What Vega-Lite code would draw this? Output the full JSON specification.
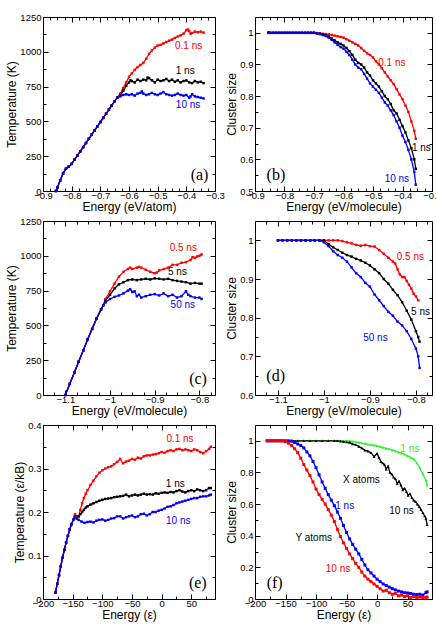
{
"$schema": "https://vega.github.io/schema/vega-lite/v6.json",
"padding": {"left": 5, "top": 11, "right": 2, "bottom": 2},
"columns": 2,
"spacing": {"row": 2, "column": 0},
"config": {
  "font": "Liberation Sans",
  "view": {"stroke": "#000", "strokeWidth": 1},
  "axis": {"grid": false, "domain": false, "tickColor": "#000", "tickWidth": 1, "labelColor": "#000", "labelFontSize": 9.5, "labelFont": "Liberation Sans", "titleFont": "Liberation Sans", "titleColor": "#000", "titleFontSize": 12, "titleFontWeight": "normal", "labelPadding": 7, "titlePadding": 1, "labelFlush": false, "labelOverlap": false},
  "axisX": {"labelPadding": 4, "titlePadding": 0},
  "text": {"font": "Liberation Sans"}
},
"datasets": {
"a": [
{"s":"r","x":-0.855,"y":0},{"s":"r","x":-0.85,"y":25},{"s":"r","x":-0.84,"y":75},{"s":"r","x":-0.83,"y":125},{"s":"r","x":-0.82,"y":160},{"s":"r","x":-0.81,"y":175},{"s":"r","x":-0.8,"y":195},{"s":"r","x":-0.79,"y":225},{"s":"r","x":-0.78,"y":255},{"s":"r","x":-0.77,"y":285},{"s":"r","x":-0.76,"y":315},{"s":"r","x":-0.75,"y":345},{"s":"r","x":-0.74,"y":375},{"s":"r","x":-0.73,"y":405},{"s":"r","x":-0.72,"y":435},{"s":"r","x":-0.71,"y":465},{"s":"r","x":-0.7,"y":495},{"s":"r","x":-0.69,"y":525},{"s":"r","x":-0.68,"y":555},{"s":"r","x":-0.67,"y":585},{"s":"r","x":-0.66,"y":615},{"s":"r","x":-0.65,"y":645},{"s":"r","x":-0.64,"y":672},
{"s":"r","x":-0.63,"y":700},{"s":"r","x":-0.62,"y":740},{"s":"r","x":-0.61,"y":780},{"s":"r","x":-0.6,"y":820},{"s":"r","x":-0.59,"y":845},{"s":"r","x":-0.58,"y":870},{"s":"r","x":-0.57,"y":890},{"s":"r","x":-0.56,"y":905},{"s":"r","x":-0.55,"y":920},{"s":"r","x":-0.54,"y":950},{"s":"r","x":-0.53,"y":985},{"s":"r","x":-0.52,"y":1010},{"s":"r","x":-0.51,"y":1030},{"s":"r","x":-0.5,"y":1045},{"s":"r","x":-0.49,"y":1050},{"s":"r","x":-0.48,"y":1060},{"s":"r","x":-0.47,"y":1070},{"s":"r","x":-0.46,"y":1080},{"s":"r","x":-0.45,"y":1088},{"s":"r","x":-0.44,"y":1100},{"s":"r","x":-0.43,"y":1110},{"s":"r","x":-0.42,"y":1118},{"s":"r","x":-0.41,"y":1130},{"s":"r","x":-0.4,"y":1155},{"s":"r","x":-0.395,"y":1160},{"s":"r","x":-0.39,"y":1150},{"s":"r","x":-0.385,"y":1130},{"s":"r","x":-0.38,"y":1135},{"s":"r","x":-0.37,"y":1145},{"s":"r","x":-0.36,"y":1140},{"s":"r","x":-0.35,"y":1145},{"s":"r","x":-0.34,"y":1138},
{"s":"k","x":-0.855,"y":0},{"s":"k","x":-0.85,"y":25},{"s":"k","x":-0.84,"y":75},{"s":"k","x":-0.83,"y":125},{"s":"k","x":-0.82,"y":160},{"s":"k","x":-0.81,"y":175},{"s":"k","x":-0.8,"y":195},{"s":"k","x":-0.79,"y":225},{"s":"k","x":-0.78,"y":255},{"s":"k","x":-0.77,"y":285},{"s":"k","x":-0.76,"y":315},{"s":"k","x":-0.75,"y":345},{"s":"k","x":-0.74,"y":375},{"s":"k","x":-0.73,"y":405},{"s":"k","x":-0.72,"y":435},{"s":"k","x":-0.71,"y":465},{"s":"k","x":-0.7,"y":495},{"s":"k","x":-0.69,"y":525},{"s":"k","x":-0.68,"y":555},{"s":"k","x":-0.67,"y":585},{"s":"k","x":-0.66,"y":615},{"s":"k","x":-0.65,"y":645},{"s":"k","x":-0.64,"y":672},
{"s":"k","x":-0.63,"y":690},{"s":"k","x":-0.62,"y":720},{"s":"k","x":-0.61,"y":755},{"s":"k","x":-0.6,"y":780},{"s":"k","x":-0.595,"y":795},{"s":"k","x":-0.59,"y":790},{"s":"k","x":-0.58,"y":780},{"s":"k","x":-0.57,"y":800},{"s":"k","x":-0.56,"y":790},{"s":"k","x":-0.55,"y":800},{"s":"k","x":-0.54,"y":795},{"s":"k","x":-0.535,"y":815},{"s":"k","x":-0.53,"y":810},{"s":"k","x":-0.52,"y":795},{"s":"k","x":-0.51,"y":780},{"s":"k","x":-0.5,"y":800},{"s":"k","x":-0.49,"y":790},{"s":"k","x":-0.48,"y":795},{"s":"k","x":-0.47,"y":805},{"s":"k","x":-0.46,"y":790},{"s":"k","x":-0.45,"y":800},{"s":"k","x":-0.44,"y":785},{"s":"k","x":-0.43,"y":795},{"s":"k","x":-0.42,"y":780},{"s":"k","x":-0.41,"y":790},{"s":"k","x":-0.4,"y":795},{"s":"k","x":-0.39,"y":780},{"s":"k","x":-0.38,"y":775},{"s":"k","x":-0.37,"y":790},{"s":"k","x":-0.36,"y":780},{"s":"k","x":-0.35,"y":785},{"s":"k","x":-0.34,"y":775},
{"s":"b","x":-0.855,"y":0},{"s":"b","x":-0.85,"y":25},{"s":"b","x":-0.84,"y":75},{"s":"b","x":-0.83,"y":125},{"s":"b","x":-0.82,"y":160},{"s":"b","x":-0.81,"y":175},{"s":"b","x":-0.8,"y":195},{"s":"b","x":-0.79,"y":225},{"s":"b","x":-0.78,"y":255},{"s":"b","x":-0.77,"y":285},{"s":"b","x":-0.76,"y":315},{"s":"b","x":-0.75,"y":345},{"s":"b","x":-0.74,"y":375},{"s":"b","x":-0.73,"y":405},{"s":"b","x":-0.72,"y":435},{"s":"b","x":-0.71,"y":465},{"s":"b","x":-0.7,"y":495},{"s":"b","x":-0.69,"y":525},{"s":"b","x":-0.68,"y":555},{"s":"b","x":-0.67,"y":585},{"s":"b","x":-0.66,"y":615},{"s":"b","x":-0.65,"y":645},{"s":"b","x":-0.64,"y":672},
{"s":"b","x":-0.63,"y":680},{"s":"b","x":-0.62,"y":690},{"s":"b","x":-0.61,"y":695},{"s":"b","x":-0.6,"y":690},{"s":"b","x":-0.59,"y":695},{"s":"b","x":-0.58,"y":685},{"s":"b","x":-0.57,"y":700},{"s":"b","x":-0.56,"y":705},{"s":"b","x":-0.555,"y":715},{"s":"b","x":-0.55,"y":700},{"s":"b","x":-0.54,"y":690},{"s":"b","x":-0.53,"y":695},{"s":"b","x":-0.52,"y":705},{"s":"b","x":-0.51,"y":695},{"s":"b","x":-0.5,"y":690},{"s":"b","x":-0.49,"y":700},{"s":"b","x":-0.48,"y":710},{"s":"b","x":-0.47,"y":695},{"s":"b","x":-0.46,"y":690},{"s":"b","x":-0.45,"y":685},{"s":"b","x":-0.44,"y":690},{"s":"b","x":-0.43,"y":700},{"s":"b","x":-0.42,"y":690},{"s":"b","x":-0.41,"y":685},{"s":"b","x":-0.4,"y":690},{"s":"b","x":-0.39,"y":670},{"s":"b","x":-0.385,"y":680},{"s":"b","x":-0.38,"y":695},{"s":"b","x":-0.37,"y":680},{"s":"b","x":-0.36,"y":675},{"s":"b","x":-0.35,"y":670},{"s":"b","x":-0.34,"y":665}
],
"aL": [{"s":"r","x":-0.392,"y":1039,"t":"0.1 ns"},{"s":"k","x":-0.404,"y":862,"t":"1 ns"},{"s":"b","x":-0.394,"y":615,"t":"10 ns"}],
"b": [
{"s":"r","x":-0.855,"y":1},{"s":"r","x":-0.85,"y":1},{"s":"r","x":-0.84,"y":1},{"s":"r","x":-0.83,"y":1},{"s":"r","x":-0.82,"y":1},{"s":"r","x":-0.81,"y":1},{"s":"r","x":-0.8,"y":1},{"s":"r","x":-0.79,"y":1},{"s":"r","x":-0.78,"y":1},{"s":"r","x":-0.77,"y":1},{"s":"r","x":-0.76,"y":1},{"s":"r","x":-0.75,"y":1},{"s":"r","x":-0.74,"y":1},{"s":"r","x":-0.73,"y":1},{"s":"r","x":-0.72,"y":1},{"s":"r","x":-0.71,"y":1},{"s":"r","x":-0.7,"y":1},
{"s":"r","x":-0.69,"y":0.999},{"s":"r","x":-0.68,"y":0.998},{"s":"r","x":-0.67,"y":0.997},{"s":"r","x":-0.66,"y":0.996},{"s":"r","x":-0.65,"y":0.995},{"s":"r","x":-0.64,"y":0.993},{"s":"r","x":-0.63,"y":0.991},{"s":"r","x":-0.62,"y":0.989},{"s":"r","x":-0.61,"y":0.987},{"s":"r","x":-0.6,"y":0.985},{"s":"r","x":-0.59,"y":0.98},{"s":"r","x":-0.58,"y":0.975},{"s":"r","x":-0.57,"y":0.97},{"s":"r","x":-0.56,"y":0.965},{"s":"r","x":-0.55,"y":0.96},{"s":"r","x":-0.54,"y":0.952},{"s":"r","x":-0.53,"y":0.943},{"s":"r","x":-0.52,"y":0.935},{"s":"r","x":-0.51,"y":0.93},{"s":"r","x":-0.5,"y":0.922},{"s":"r","x":-0.49,"y":0.91},{"s":"r","x":-0.48,"y":0.9},{"s":"r","x":-0.47,"y":0.888},{"s":"r","x":-0.46,"y":0.875},{"s":"r","x":-0.45,"y":0.862},{"s":"r","x":-0.44,"y":0.85},{"s":"r","x":-0.43,"y":0.838},{"s":"r","x":-0.42,"y":0.822},{"s":"r","x":-0.41,"y":0.805},{"s":"r","x":-0.4,"y":0.79},{"s":"r","x":-0.39,"y":0.77},{"s":"r","x":-0.38,"y":0.75},{"s":"r","x":-0.37,"y":0.72},{"s":"r","x":-0.36,"y":0.69},{"s":"r","x":-0.355,"y":0.665},
{"s":"k","x":-0.855,"y":1},{"s":"k","x":-0.85,"y":1},{"s":"k","x":-0.84,"y":1},{"s":"k","x":-0.83,"y":1},{"s":"k","x":-0.82,"y":1},{"s":"k","x":-0.81,"y":1},{"s":"k","x":-0.8,"y":1},{"s":"k","x":-0.79,"y":1},{"s":"k","x":-0.78,"y":1},{"s":"k","x":-0.77,"y":1},{"s":"k","x":-0.76,"y":1},{"s":"k","x":-0.75,"y":1},{"s":"k","x":-0.74,"y":1},{"s":"k","x":-0.73,"y":1},{"s":"k","x":-0.72,"y":1},{"s":"k","x":-0.71,"y":1},{"s":"k","x":-0.7,"y":1},
{"s":"k","x":-0.69,"y":0.999},{"s":"k","x":-0.68,"y":0.997},{"s":"k","x":-0.67,"y":0.995},{"s":"k","x":-0.66,"y":0.992},{"s":"k","x":-0.65,"y":0.988},{"s":"k","x":-0.64,"y":0.982},{"s":"k","x":-0.63,"y":0.976},{"s":"k","x":-0.62,"y":0.97},{"s":"k","x":-0.61,"y":0.965},{"s":"k","x":-0.6,"y":0.96},{"s":"k","x":-0.59,"y":0.952},{"s":"k","x":-0.58,"y":0.942},{"s":"k","x":-0.57,"y":0.93},{"s":"k","x":-0.56,"y":0.915},{"s":"k","x":-0.55,"y":0.905},{"s":"k","x":-0.54,"y":0.9},{"s":"k","x":-0.53,"y":0.89},{"s":"k","x":-0.52,"y":0.875},{"s":"k","x":-0.51,"y":0.865},{"s":"k","x":-0.5,"y":0.85},{"s":"k","x":-0.49,"y":0.84},{"s":"k","x":-0.48,"y":0.83},{"s":"k","x":-0.47,"y":0.815},{"s":"k","x":-0.46,"y":0.8},{"s":"k","x":-0.45,"y":0.79},{"s":"k","x":-0.44,"y":0.775},{"s":"k","x":-0.43,"y":0.755},{"s":"k","x":-0.42,"y":0.745},{"s":"k","x":-0.41,"y":0.725},{"s":"k","x":-0.4,"y":0.705},{"s":"k","x":-0.39,"y":0.685},{"s":"k","x":-0.38,"y":0.66},{"s":"k","x":-0.37,"y":0.635},{"s":"k","x":-0.36,"y":0.6},{"s":"k","x":-0.355,"y":0.57},
{"s":"b","x":-0.855,"y":1},{"s":"b","x":-0.85,"y":1},{"s":"b","x":-0.84,"y":1},{"s":"b","x":-0.83,"y":1},{"s":"b","x":-0.82,"y":1},{"s":"b","x":-0.81,"y":1},{"s":"b","x":-0.8,"y":1},{"s":"b","x":-0.79,"y":1},{"s":"b","x":-0.78,"y":1},{"s":"b","x":-0.77,"y":1},{"s":"b","x":-0.76,"y":1},{"s":"b","x":-0.75,"y":1},{"s":"b","x":-0.74,"y":1},{"s":"b","x":-0.73,"y":1},{"s":"b","x":-0.72,"y":1},{"s":"b","x":-0.71,"y":1},{"s":"b","x":-0.7,"y":1},
{"s":"b","x":-0.69,"y":0.998},{"s":"b","x":-0.68,"y":0.996},{"s":"b","x":-0.67,"y":0.993},{"s":"b","x":-0.66,"y":0.99},{"s":"b","x":-0.65,"y":0.985},{"s":"b","x":-0.64,"y":0.978},{"s":"b","x":-0.63,"y":0.97},{"s":"b","x":-0.62,"y":0.962},{"s":"b","x":-0.61,"y":0.955},{"s":"b","x":-0.6,"y":0.95},{"s":"b","x":-0.59,"y":0.94},{"s":"b","x":-0.58,"y":0.93},{"s":"b","x":-0.57,"y":0.915},{"s":"b","x":-0.56,"y":0.9},{"s":"b","x":-0.55,"y":0.89},{"s":"b","x":-0.54,"y":0.885},{"s":"b","x":-0.53,"y":0.87},{"s":"b","x":-0.52,"y":0.855},{"s":"b","x":-0.51,"y":0.84},{"s":"b","x":-0.5,"y":0.83},{"s":"b","x":-0.49,"y":0.82},{"s":"b","x":-0.48,"y":0.81},{"s":"b","x":-0.47,"y":0.795},{"s":"b","x":-0.46,"y":0.78},{"s":"b","x":-0.45,"y":0.77},{"s":"b","x":-0.44,"y":0.755},{"s":"b","x":-0.43,"y":0.74},{"s":"b","x":-0.42,"y":0.72},{"s":"b","x":-0.41,"y":0.7},{"s":"b","x":-0.4,"y":0.675},{"s":"b","x":-0.39,"y":0.655},{"s":"b","x":-0.38,"y":0.63},{"s":"b","x":-0.37,"y":0.6},{"s":"b","x":-0.36,"y":0.56},{"s":"b","x":-0.355,"y":0.52}
],
"bL": [{"s":"r","x":-0.436,"y":0.906,"t":"0.1 ns"},{"s":"k","x":-0.336,"y":0.635,"t":"1 ns"},{"s":"b","x":-0.419,"y":0.539,"t":"10 ns"}],
"c": [
{"s":"r","x":-1.1,"y":0},{"s":"r","x":-1.09,"y":80},{"s":"r","x":-1.08,"y":160},{"s":"r","x":-1.07,"y":240},{"s":"r","x":-1.06,"y":320},{"s":"r","x":-1.05,"y":400},{"s":"r","x":-1.04,"y":475},{"s":"r","x":-1.03,"y":550},{"s":"r","x":-1.02,"y":615},{"s":"r","x":-1.015,"y":645},
{"s":"r","x":-1.01,"y":690},{"s":"r","x":-1.0,"y":745},{"s":"r","x":-0.99,"y":800},{"s":"r","x":-0.98,"y":850},{"s":"r","x":-0.97,"y":885},{"s":"r","x":-0.96,"y":905},{"s":"r","x":-0.955,"y":915},{"s":"r","x":-0.95,"y":905},{"s":"r","x":-0.94,"y":915},{"s":"r","x":-0.935,"y":920},{"s":"r","x":-0.93,"y":915},{"s":"r","x":-0.92,"y":900},{"s":"r","x":-0.91,"y":885},{"s":"r","x":-0.9,"y":875},{"s":"r","x":-0.895,"y":880},{"s":"r","x":-0.89,"y":895},{"s":"r","x":-0.88,"y":905},{"s":"r","x":-0.87,"y":915},{"s":"r","x":-0.86,"y":935},{"s":"r","x":-0.85,"y":935},{"s":"r","x":-0.84,"y":950},{"s":"r","x":-0.83,"y":955},{"s":"r","x":-0.82,"y":970},{"s":"r","x":-0.815,"y":990},{"s":"r","x":-0.81,"y":985},{"s":"r","x":-0.805,"y":995},{"s":"r","x":-0.8,"y":1000},{"s":"r","x":-0.795,"y":1010},
{"s":"k","x":-1.1,"y":0},{"s":"k","x":-1.09,"y":80},{"s":"k","x":-1.08,"y":160},{"s":"k","x":-1.07,"y":240},{"s":"k","x":-1.06,"y":320},{"s":"k","x":-1.05,"y":400},{"s":"k","x":-1.04,"y":475},{"s":"k","x":-1.03,"y":550},{"s":"k","x":-1.02,"y":615},{"s":"k","x":-1.015,"y":645},
{"s":"k","x":-1.01,"y":680},{"s":"k","x":-1.0,"y":720},{"s":"k","x":-0.99,"y":765},{"s":"k","x":-0.98,"y":795},{"s":"k","x":-0.97,"y":810},{"s":"k","x":-0.96,"y":825},{"s":"k","x":-0.95,"y":830},{"s":"k","x":-0.94,"y":825},{"s":"k","x":-0.93,"y":830},{"s":"k","x":-0.92,"y":835},{"s":"k","x":-0.91,"y":830},{"s":"k","x":-0.9,"y":838},{"s":"k","x":-0.89,"y":835},{"s":"k","x":-0.88,"y":830},{"s":"k","x":-0.87,"y":835},{"s":"k","x":-0.86,"y":825},{"s":"k","x":-0.85,"y":820},{"s":"k","x":-0.84,"y":815},{"s":"k","x":-0.83,"y":810},{"s":"k","x":-0.82,"y":800},{"s":"k","x":-0.81,"y":805},{"s":"k","x":-0.8,"y":800},{"s":"k","x":-0.795,"y":800},
{"s":"b","x":-1.1,"y":0},{"s":"b","x":-1.09,"y":80},{"s":"b","x":-1.08,"y":160},{"s":"b","x":-1.07,"y":240},{"s":"b","x":-1.06,"y":320},{"s":"b","x":-1.05,"y":400},{"s":"b","x":-1.04,"y":475},{"s":"b","x":-1.03,"y":550},{"s":"b","x":-1.02,"y":615},{"s":"b","x":-1.015,"y":645},
{"s":"b","x":-1.01,"y":665},{"s":"b","x":-1.0,"y":690},{"s":"b","x":-0.99,"y":705},{"s":"b","x":-0.98,"y":715},{"s":"b","x":-0.97,"y":730},{"s":"b","x":-0.96,"y":750},{"s":"b","x":-0.955,"y":760},{"s":"b","x":-0.95,"y":740},{"s":"b","x":-0.945,"y":745},{"s":"b","x":-0.94,"y":710},{"s":"b","x":-0.935,"y":720},{"s":"b","x":-0.93,"y":700},{"s":"b","x":-0.92,"y":710},{"s":"b","x":-0.91,"y":720},{"s":"b","x":-0.9,"y":725},{"s":"b","x":-0.89,"y":715},{"s":"b","x":-0.88,"y":730},{"s":"b","x":-0.87,"y":710},{"s":"b","x":-0.86,"y":720},{"s":"b","x":-0.85,"y":700},{"s":"b","x":-0.84,"y":710},{"s":"b","x":-0.83,"y":745},{"s":"b","x":-0.825,"y":720},{"s":"b","x":-0.82,"y":710},{"s":"b","x":-0.81,"y":700},{"s":"b","x":-0.8,"y":700},{"s":"b","x":-0.795,"y":690}
],
"cL": [{"s":"r","x":-0.836,"y":1058,"t":"0.5 ns"},{"s":"k","x":-0.849,"y":884,"t":"5 ns"},{"s":"b","x":-0.837,"y":644,"t":"50 ns"}],
"d": [
{"s":"r","x":-1.1,"y":1},{"s":"r","x":-1.09,"y":1},{"s":"r","x":-1.08,"y":1},{"s":"r","x":-1.07,"y":1},{"s":"r","x":-1.06,"y":1},{"s":"r","x":-1.05,"y":1},{"s":"r","x":-1.04,"y":1},{"s":"r","x":-1.03,"y":1},{"s":"r","x":-1.02,"y":1},{"s":"r","x":-1.01,"y":1},{"s":"r","x":-1.0,"y":1},{"s":"r","x":-0.99,"y":1},{"s":"r","x":-0.98,"y":1},{"s":"r","x":-0.97,"y":1},
{"s":"r","x":-0.96,"y":0.998},{"s":"r","x":-0.95,"y":0.995},{"s":"r","x":-0.94,"y":0.992},{"s":"r","x":-0.93,"y":0.988},{"s":"r","x":-0.92,"y":0.986},{"s":"r","x":-0.91,"y":0.988},{"s":"r","x":-0.9,"y":0.985},{"s":"r","x":-0.89,"y":0.984},{"s":"r","x":-0.88,"y":0.975},{"s":"r","x":-0.87,"y":0.965},{"s":"r","x":-0.86,"y":0.955},{"s":"r","x":-0.85,"y":0.945},{"s":"r","x":-0.845,"y":0.94},{"s":"r","x":-0.84,"y":0.925},{"s":"r","x":-0.835,"y":0.912},{"s":"r","x":-0.83,"y":0.905},{"s":"r","x":-0.825,"y":0.905},{"s":"r","x":-0.82,"y":0.895},{"s":"r","x":-0.815,"y":0.885},{"s":"r","x":-0.81,"y":0.875},{"s":"r","x":-0.805,"y":0.862},{"s":"r","x":-0.8,"y":0.855},{"s":"r","x":-0.795,"y":0.845},
{"s":"k","x":-1.1,"y":1},{"s":"k","x":-1.09,"y":1},{"s":"k","x":-1.08,"y":1},{"s":"k","x":-1.07,"y":1},{"s":"k","x":-1.06,"y":1},{"s":"k","x":-1.05,"y":1},{"s":"k","x":-1.04,"y":1},{"s":"k","x":-1.03,"y":1},{"s":"k","x":-1.02,"y":1},{"s":"k","x":-1.01,"y":1},{"s":"k","x":-1.0,"y":1},
{"s":"k","x":-0.99,"y":0.99},{"s":"k","x":-0.98,"y":0.982},{"s":"k","x":-0.97,"y":0.975},{"s":"k","x":-0.96,"y":0.968},{"s":"k","x":-0.95,"y":0.962},{"s":"k","x":-0.94,"y":0.958},{"s":"k","x":-0.93,"y":0.952},{"s":"k","x":-0.92,"y":0.948},{"s":"k","x":-0.91,"y":0.942},{"s":"k","x":-0.9,"y":0.935},{"s":"k","x":-0.89,"y":0.925},{"s":"k","x":-0.88,"y":0.915},{"s":"k","x":-0.87,"y":0.9},{"s":"k","x":-0.86,"y":0.888},{"s":"k","x":-0.85,"y":0.872},{"s":"k","x":-0.84,"y":0.858},{"s":"k","x":-0.83,"y":0.84},{"s":"k","x":-0.82,"y":0.818},{"s":"k","x":-0.81,"y":0.795},{"s":"k","x":-0.8,"y":0.765},{"s":"k","x":-0.795,"y":0.75},{"s":"k","x":-0.792,"y":0.738},
{"s":"b","x":-1.1,"y":1},{"s":"b","x":-1.09,"y":1},{"s":"b","x":-1.08,"y":1},{"s":"b","x":-1.07,"y":1},{"s":"b","x":-1.06,"y":1},{"s":"b","x":-1.05,"y":1},{"s":"b","x":-1.04,"y":1},{"s":"b","x":-1.03,"y":1},{"s":"b","x":-1.02,"y":1},{"s":"b","x":-1.01,"y":1},
{"s":"b","x":-1.0,"y":0.995},{"s":"b","x":-0.99,"y":0.985},{"s":"b","x":-0.98,"y":0.972},{"s":"b","x":-0.97,"y":0.962},{"s":"b","x":-0.96,"y":0.955},{"s":"b","x":-0.95,"y":0.945},{"s":"b","x":-0.94,"y":0.93},{"s":"b","x":-0.93,"y":0.915},{"s":"b","x":-0.92,"y":0.905},{"s":"b","x":-0.91,"y":0.89},{"s":"b","x":-0.9,"y":0.88},{"s":"b","x":-0.89,"y":0.86},{"s":"b","x":-0.88,"y":0.845},{"s":"b","x":-0.87,"y":0.83},{"s":"b","x":-0.86,"y":0.815},{"s":"b","x":-0.85,"y":0.805},{"s":"b","x":-0.84,"y":0.79},{"s":"b","x":-0.83,"y":0.78},{"s":"b","x":-0.82,"y":0.765},{"s":"b","x":-0.81,"y":0.745},{"s":"b","x":-0.8,"y":0.72},{"s":"b","x":-0.795,"y":0.7},{"s":"b","x":-0.792,"y":0.67}
],
"dL": [{"s":"r","x":-0.812,"y":0.958,"t":"0.5 ns"},{"s":"k","x":-0.79,"y":0.815,"t":"5 ns"},{"s":"b","x":-0.888,"y":0.748,"t":"50 ns"}],
"e": [
{"s":"r","x":-179,"y":0.015},{"s":"r","x":-176,"y":0.035},{"s":"r","x":-173,"y":0.055},{"s":"r","x":-170,"y":0.075},{"s":"r","x":-167,"y":0.095},{"s":"r","x":-164,"y":0.113},{"s":"r","x":-161,"y":0.13},{"s":"r","x":-158,"y":0.145},{"s":"r","x":-155,"y":0.16},{"s":"r","x":-152,"y":0.172},{"s":"r","x":-149,"y":0.182},
{"s":"r","x":-146,"y":0.195},{"s":"r","x":-143,"y":0.19},{"s":"r","x":-140,"y":0.19},{"s":"r","x":-137,"y":0.205},{"s":"r","x":-134,"y":0.22},{"s":"r","x":-131,"y":0.232},{"s":"r","x":-128,"y":0.242},{"s":"r","x":-125,"y":0.25},{"s":"r","x":-120,"y":0.262},{"s":"r","x":-115,"y":0.272},{"s":"r","x":-110,"y":0.282},{"s":"r","x":-105,"y":0.29},{"s":"r","x":-100,"y":0.296},{"s":"r","x":-95,"y":0.3},{"s":"r","x":-90,"y":0.303},{"s":"r","x":-85,"y":0.305},{"s":"r","x":-80,"y":0.31},{"s":"r","x":-75,"y":0.315},{"s":"r","x":-70,"y":0.322},{"s":"r","x":-65,"y":0.312},{"s":"r","x":-60,"y":0.316},{"s":"r","x":-55,"y":0.318},{"s":"r","x":-50,"y":0.322},{"s":"r","x":-45,"y":0.32},{"s":"r","x":-40,"y":0.325},{"s":"r","x":-35,"y":0.323},{"s":"r","x":-30,"y":0.328},{"s":"r","x":-25,"y":0.33},{"s":"r","x":-20,"y":0.33},{"s":"r","x":-15,"y":0.332},{"s":"r","x":-10,"y":0.333},{"s":"r","x":-5,"y":0.335},{"s":"r","x":0,"y":0.338},{"s":"r","x":5,"y":0.336},{"s":"r","x":10,"y":0.34},{"s":"r","x":15,"y":0.342},{"s":"r","x":20,"y":0.34},{"s":"r","x":25,"y":0.344},{"s":"r","x":30,"y":0.345},{"s":"r","x":35,"y":0.342},{"s":"r","x":40,"y":0.344},{"s":"r","x":45,"y":0.342},{"s":"r","x":50,"y":0.34},{"s":"r","x":55,"y":0.344},{"s":"r","x":60,"y":0.342},{"s":"r","x":65,"y":0.338},{"s":"r","x":70,"y":0.335},{"s":"r","x":75,"y":0.34},{"s":"r","x":80,"y":0.345},{"s":"r","x":83,"y":0.35},
{"s":"k","x":-179,"y":0.015},{"s":"k","x":-176,"y":0.035},{"s":"k","x":-173,"y":0.055},{"s":"k","x":-170,"y":0.075},{"s":"k","x":-167,"y":0.095},{"s":"k","x":-164,"y":0.113},{"s":"k","x":-161,"y":0.13},{"s":"k","x":-158,"y":0.145},{"s":"k","x":-155,"y":0.16},{"s":"k","x":-152,"y":0.172},{"s":"k","x":-149,"y":0.182},
{"s":"k","x":-146,"y":0.19},{"s":"k","x":-143,"y":0.185},{"s":"k","x":-140,"y":0.19},{"s":"k","x":-137,"y":0.195},{"s":"k","x":-134,"y":0.2},{"s":"k","x":-131,"y":0.205},{"s":"k","x":-128,"y":0.21},{"s":"k","x":-125,"y":0.213},{"s":"k","x":-120,"y":0.217},{"s":"k","x":-115,"y":0.22},{"s":"k","x":-110,"y":0.223},{"s":"k","x":-105,"y":0.226},{"s":"k","x":-100,"y":0.228},{"s":"k","x":-95,"y":0.23},{"s":"k","x":-90,"y":0.231},{"s":"k","x":-85,"y":0.232},{"s":"k","x":-80,"y":0.234},{"s":"k","x":-75,"y":0.235},{"s":"k","x":-70,"y":0.236},{"s":"k","x":-65,"y":0.237},{"s":"k","x":-60,"y":0.24},{"s":"k","x":-55,"y":0.236},{"s":"k","x":-50,"y":0.238},{"s":"k","x":-45,"y":0.24},{"s":"k","x":-40,"y":0.238},{"s":"k","x":-35,"y":0.24},{"s":"k","x":-30,"y":0.242},{"s":"k","x":-25,"y":0.24},{"s":"k","x":-20,"y":0.241},{"s":"k","x":-15,"y":0.24},{"s":"k","x":-10,"y":0.243},{"s":"k","x":-5,"y":0.242},{"s":"k","x":0,"y":0.244},{"s":"k","x":5,"y":0.245},{"s":"k","x":10,"y":0.244},{"s":"k","x":15,"y":0.246},{"s":"k","x":20,"y":0.245},{"s":"k","x":25,"y":0.248},{"s":"k","x":30,"y":0.25},{"s":"k","x":35,"y":0.247},{"s":"k","x":40,"y":0.245},{"s":"k","x":45,"y":0.248},{"s":"k","x":50,"y":0.25},{"s":"k","x":55,"y":0.248},{"s":"k","x":60,"y":0.252},{"s":"k","x":65,"y":0.25},{"s":"k","x":70,"y":0.248},{"s":"k","x":75,"y":0.25},{"s":"k","x":80,"y":0.255},{"s":"k","x":83,"y":0.255},
{"s":"b","x":-179,"y":0.015},{"s":"b","x":-176,"y":0.035},{"s":"b","x":-173,"y":0.055},{"s":"b","x":-170,"y":0.075},{"s":"b","x":-167,"y":0.095},{"s":"b","x":-164,"y":0.113},{"s":"b","x":-161,"y":0.13},{"s":"b","x":-158,"y":0.145},{"s":"b","x":-155,"y":0.16},{"s":"b","x":-152,"y":0.172},{"s":"b","x":-149,"y":0.182},
{"s":"b","x":-146,"y":0.19},{"s":"b","x":-143,"y":0.185},{"s":"b","x":-140,"y":0.182},{"s":"b","x":-135,"y":0.178},{"s":"b","x":-130,"y":0.175},{"s":"b","x":-125,"y":0.177},{"s":"b","x":-120,"y":0.178},{"s":"b","x":-115,"y":0.176},{"s":"b","x":-110,"y":0.18},{"s":"b","x":-105,"y":0.182},{"s":"b","x":-100,"y":0.183},{"s":"b","x":-95,"y":0.18},{"s":"b","x":-90,"y":0.182},{"s":"b","x":-85,"y":0.185},{"s":"b","x":-80,"y":0.186},{"s":"b","x":-75,"y":0.19},{"s":"b","x":-70,"y":0.19},{"s":"b","x":-65,"y":0.185},{"s":"b","x":-60,"y":0.188},{"s":"b","x":-55,"y":0.19},{"s":"b","x":-50,"y":0.192},{"s":"b","x":-45,"y":0.188},{"s":"b","x":-40,"y":0.19},{"s":"b","x":-35,"y":0.195},{"s":"b","x":-30,"y":0.196},{"s":"b","x":-25,"y":0.192},{"s":"b","x":-20,"y":0.195},{"s":"b","x":-15,"y":0.2},{"s":"b","x":-10,"y":0.2},{"s":"b","x":-5,"y":0.203},{"s":"b","x":0,"y":0.205},{"s":"b","x":5,"y":0.208},{"s":"b","x":10,"y":0.212},{"s":"b","x":15,"y":0.213},{"s":"b","x":20,"y":0.216},{"s":"b","x":25,"y":0.22},{"s":"b","x":30,"y":0.222},{"s":"b","x":35,"y":0.224},{"s":"b","x":40,"y":0.226},{"s":"b","x":45,"y":0.228},{"s":"b","x":50,"y":0.23},{"s":"b","x":55,"y":0.232},{"s":"b","x":60,"y":0.232},{"s":"b","x":65,"y":0.235},{"s":"b","x":70,"y":0.236},{"s":"b","x":75,"y":0.236},{"s":"b","x":80,"y":0.238},{"s":"b","x":83,"y":0.24}
],
"eL": [{"s":"r","x":31,"y":0.367,"t":"0.1 ns"},{"s":"k","x":23,"y":0.264,"t":"1 ns"},{"s":"b","x":28,"y":0.179,"t":"10 ns"}],
"f": [
{"s":"g","x":-180,"y":1},{"s":"g","x":-170,"y":1},{"s":"g","x":-160,"y":1},{"s":"g","x":-150,"y":1},{"s":"g","x":-140,"y":1},{"s":"g","x":-130,"y":1},{"s":"g","x":-120,"y":1},{"s":"g","x":-110,"y":1},{"s":"g","x":-100,"y":1},{"s":"g","x":-90,"y":1},{"s":"g","x":-80,"y":1},{"s":"g","x":-70,"y":1},{"s":"g","x":-60,"y":1},{"s":"g","x":-50,"y":1},{"s":"g","x":-45,"y":1},
{"s":"g","x":-40,"y":0.997},{"s":"g","x":-35,"y":0.993},{"s":"g","x":-30,"y":0.99},{"s":"g","x":-25,"y":0.986},{"s":"g","x":-20,"y":0.983},{"s":"g","x":-15,"y":0.978},{"s":"g","x":-10,"y":0.975},{"s":"g","x":-5,"y":0.972},{"s":"g","x":0,"y":0.968},{"s":"g","x":5,"y":0.963},{"s":"g","x":10,"y":0.958},{"s":"g","x":15,"y":0.952},{"s":"g","x":20,"y":0.948},{"s":"g","x":25,"y":0.942},{"s":"g","x":30,"y":0.936},{"s":"g","x":35,"y":0.928},{"s":"g","x":40,"y":0.922},{"s":"g","x":45,"y":0.915},{"s":"g","x":50,"y":0.905},{"s":"g","x":55,"y":0.895},{"s":"g","x":60,"y":0.885},{"s":"g","x":65,"y":0.86},{"s":"g","x":70,"y":0.83},{"s":"g","x":75,"y":0.79},{"s":"g","x":80,"y":0.75},{"s":"g","x":82,"y":0.72},
{"s":"k","x":-180,"y":1},{"s":"k","x":-170,"y":1},{"s":"k","x":-160,"y":1},{"s":"k","x":-150,"y":1},{"s":"k","x":-140,"y":1},{"s":"k","x":-130,"y":1},{"s":"k","x":-120,"y":1},{"s":"k","x":-110,"y":1},{"s":"k","x":-100,"y":1},{"s":"k","x":-90,"y":1},{"s":"k","x":-80,"y":1},{"s":"k","x":-70,"y":1},{"s":"k","x":-65,"y":1},
{"s":"k","x":-60,"y":0.998},{"s":"k","x":-55,"y":0.995},{"s":"k","x":-50,"y":0.993},{"s":"k","x":-45,"y":0.99},{"s":"k","x":-40,"y":0.98},{"s":"k","x":-35,"y":0.975},{"s":"k","x":-30,"y":0.965},{"s":"k","x":-25,"y":0.955},{"s":"k","x":-20,"y":0.94},{"s":"k","x":-15,"y":0.935},{"s":"k","x":-10,"y":0.925},{"s":"k","x":-5,"y":0.9},{"s":"k","x":0,"y":0.92},{"s":"k","x":3,"y":0.895},{"s":"k","x":6,"y":0.87},{"s":"k","x":9,"y":0.86},{"s":"k","x":12,"y":0.85},{"s":"k","x":15,"y":0.82},{"s":"k","x":18,"y":0.84},{"s":"k","x":21,"y":0.8},{"s":"k","x":24,"y":0.79},{"s":"k","x":27,"y":0.77},{"s":"k","x":30,"y":0.76},{"s":"k","x":33,"y":0.73},{"s":"k","x":36,"y":0.745},{"s":"k","x":39,"y":0.72},{"s":"k","x":42,"y":0.69},{"s":"k","x":45,"y":0.7},{"s":"k","x":48,"y":0.68},{"s":"k","x":51,"y":0.655},{"s":"k","x":54,"y":0.665},{"s":"k","x":57,"y":0.64},{"s":"k","x":60,"y":0.625},{"s":"k","x":63,"y":0.615},{"s":"k","x":66,"y":0.6},{"s":"k","x":69,"y":0.585},{"s":"k","x":72,"y":0.565},{"s":"k","x":75,"y":0.545},{"s":"k","x":78,"y":0.525},{"s":"k","x":80,"y":0.51},{"s":"k","x":82,"y":0.47},
{"s":"b","x":-180,"y":1},{"s":"b","x":-175,"y":1},{"s":"b","x":-170,"y":1},{"s":"b","x":-165,"y":1},{"s":"b","x":-160,"y":1},{"s":"b","x":-155,"y":1},{"s":"b","x":-150,"y":1},{"s":"b","x":-145,"y":1},
{"s":"b","x":-140,"y":0.998},{"s":"b","x":-135,"y":0.99},{"s":"b","x":-130,"y":0.98},{"s":"b","x":-125,"y":0.97},{"s":"b","x":-120,"y":0.955},{"s":"b","x":-115,"y":0.93},{"s":"b","x":-110,"y":0.905},{"s":"b","x":-105,"y":0.87},{"s":"b","x":-100,"y":0.83},{"s":"b","x":-95,"y":0.785},{"s":"b","x":-90,"y":0.74},{"s":"b","x":-85,"y":0.7},{"s":"b","x":-80,"y":0.66},{"s":"b","x":-75,"y":0.625},{"s":"b","x":-70,"y":0.59},{"s":"b","x":-65,"y":0.55},{"s":"b","x":-60,"y":0.51},{"s":"b","x":-55,"y":0.465},{"s":"b","x":-50,"y":0.42},{"s":"b","x":-45,"y":0.38},{"s":"b","x":-40,"y":0.345},{"s":"b","x":-35,"y":0.315},{"s":"b","x":-30,"y":0.285},{"s":"b","x":-25,"y":0.25},{"s":"b","x":-20,"y":0.215},{"s":"b","x":-15,"y":0.185},{"s":"b","x":-10,"y":0.165},{"s":"b","x":-5,"y":0.145},{"s":"b","x":0,"y":0.125},{"s":"b","x":5,"y":0.11},{"s":"b","x":10,"y":0.095},{"s":"b","x":15,"y":0.085},{"s":"b","x":20,"y":0.075},{"s":"b","x":25,"y":0.065},{"s":"b","x":30,"y":0.058},{"s":"b","x":35,"y":0.05},{"s":"b","x":40,"y":0.045},{"s":"b","x":45,"y":0.04},{"s":"b","x":50,"y":0.038},{"s":"b","x":55,"y":0.035},{"s":"b","x":60,"y":0.03},{"s":"b","x":65,"y":0.028},{"s":"b","x":70,"y":0.03},{"s":"b","x":75,"y":0.025},{"s":"b","x":80,"y":0.04},{"s":"b","x":82,"y":0.045},
{"s":"r","x":-180,"y":1},{"s":"r","x":-175,"y":1},{"s":"r","x":-170,"y":1},{"s":"r","x":-165,"y":1},{"s":"r","x":-160,"y":1},{"s":"r","x":-155,"y":1},
{"s":"r","x":-150,"y":0.995},{"s":"r","x":-145,"y":0.985},{"s":"r","x":-140,"y":0.97},{"s":"r","x":-135,"y":0.95},{"s":"r","x":-130,"y":0.925},{"s":"r","x":-125,"y":0.89},{"s":"r","x":-120,"y":0.85},{"s":"r","x":-115,"y":0.815},{"s":"r","x":-110,"y":0.78},{"s":"r","x":-105,"y":0.74},{"s":"r","x":-100,"y":0.695},{"s":"r","x":-95,"y":0.66},{"s":"r","x":-90,"y":0.63},{"s":"r","x":-85,"y":0.6},{"s":"r","x":-80,"y":0.565},{"s":"r","x":-75,"y":0.53},{"s":"r","x":-70,"y":0.49},{"s":"r","x":-65,"y":0.44},{"s":"r","x":-60,"y":0.395},{"s":"r","x":-55,"y":0.355},{"s":"r","x":-50,"y":0.32},{"s":"r","x":-45,"y":0.285},{"s":"r","x":-40,"y":0.255},{"s":"r","x":-35,"y":0.225},{"s":"r","x":-30,"y":0.2},{"s":"r","x":-25,"y":0.17},{"s":"r","x":-20,"y":0.145},{"s":"r","x":-15,"y":0.125},{"s":"r","x":-10,"y":0.11},{"s":"r","x":-5,"y":0.095},{"s":"r","x":0,"y":0.08},{"s":"r","x":5,"y":0.065},{"s":"r","x":10,"y":0.05},{"s":"r","x":15,"y":0.055},{"s":"r","x":20,"y":0.04},{"s":"r","x":25,"y":0.03},{"s":"r","x":30,"y":0.035},{"s":"r","x":35,"y":0.02},{"s":"r","x":40,"y":0.025},{"s":"r","x":45,"y":0.015},{"s":"r","x":50,"y":0.02},{"s":"r","x":55,"y":0.01},{"s":"r","x":60,"y":0.015},{"s":"r","x":65,"y":0.01},{"s":"r","x":70,"y":0.012},{"s":"r","x":75,"y":0.008},{"s":"r","x":80,"y":0.01},{"s":"r","x":82,"y":0.012}
],
"fL": [{"s":"g","x":53.6,"y":0.948,"t":"1 ns"},{"s":"k","x":-25.7,"y":0.753,"t":"X atoms"},{"s":"k","x":40,"y":0.556,"t":"10 ns"},{"s":"b","x":-53,"y":0.585,"t":"1 ns"},{"s":"k","x":-103.8,"y":0.388,"t":"Y atoms"},{"s":"r","x":-64,"y":0.187,"t":"10 ns"}]
},
"concat": [
 {"width": 172, "height": 174, "resolve": {"axis": {"x": "independent", "y": "independent"}},
  "layer": [
   {"data": {"name": "a"}, "mark": {"type": "line", "strokeWidth": 1.3},
    "encoding": {
     "x": {"field": "x", "type": "quantitative", "scale": {"domain": [-0.9, -0.3], "nice": false, "zero": false}, "axis": {"title": "Energy (eV/atom)", "values": [-0.9,-0.875,-0.85,-0.825,-0.8,-0.775,-0.75,-0.725,-0.7,-0.675,-0.65,-0.625,-0.6,-0.575,-0.55,-0.525,-0.5,-0.475,-0.45,-0.425,-0.4,-0.375,-0.35,-0.325,-0.3], "labelExpr": "abs(datum.value*10-round(datum.value*10))<0.001 ? format(datum.value,'~g') : ''", "tickSize": {"condition": {"test": "abs(datum.value*10-round(datum.value*10))<0.001", "value": -5}, "value": -3}}},
     "y": {"field": "y", "type": "quantitative", "scale": {"domain": [0, 1250], "nice": false, "zero": false}, "axis": {"title": "Temperature (K)", "values": [0,125,250,375,500,625,750,875,1000,1125,1250], "labelExpr": "abs(datum.value/250-round(datum.value/250))<0.001 ? format(datum.value,'~g') : ''", "tickSize": {"condition": {"test": "abs(datum.value/250-round(datum.value/250))<0.001", "value": -5}, "value": -3}}},
     "color": {"field": "s", "type": "nominal", "scale": {"domain": ["r","k","b","g"], "range": ["#ff0000","#000000","#0000ff","#33ee33"]}, "legend": null}}},
   {"data": {"name": "a"}, "mark": {"type": "point", "filled": true, "shape": "square", "size": 6, "opacity": 1},
    "encoding": {
     "x": {"field": "x", "type": "quantitative", "scale": {"domain": [-0.9, -0.3], "nice": false, "zero": false}, "axis": null},
     "y": {"field": "y", "type": "quantitative", "scale": {"domain": [0, 1250], "nice": false, "zero": false}, "axis": null},
     "color": {"field": "s", "type": "nominal", "scale": {"domain": ["r","k","b","g"], "range": ["#ff0000","#000000","#0000ff","#33ee33"]}, "legend": null}}},
   {"data": {"name": "aL"}, "mark": {"type": "text", "fontSize": 10},
    "encoding": {
     "x": {"field": "x", "type": "quantitative", "scale": {"domain": [-0.9, -0.3], "nice": false, "zero": false}, "axis": {"orient": "top", "title": null, "labels": false, "values": [-0.9,-0.875,-0.85,-0.825,-0.8,-0.775,-0.75,-0.725,-0.7,-0.675,-0.65,-0.625,-0.6,-0.575,-0.55,-0.525,-0.5,-0.475,-0.45,-0.425,-0.4,-0.375,-0.35,-0.325,-0.3], "tickSize": {"condition": {"test": "abs(datum.value*10-round(datum.value*10))<0.001", "value": -5}, "value": -3}}},
     "y": {"field": "y", "type": "quantitative", "scale": {"domain": [0, 1250], "nice": false, "zero": false}, "axis": {"orient": "right", "title": null, "labels": false, "values": [0,125,250,375,500,625,750,875,1000,1125,1250], "tickSize": {"condition": {"test": "abs(datum.value/250-round(datum.value/250))<0.001", "value": -5}, "value": -3}}},
     "text": {"field": "t"},
     "color": {"field": "s", "type": "nominal", "scale": {"domain": ["r","k","b","g"], "range": ["#ff0000","#000000","#0000ff","#33ee33"]}, "legend": null}}},
   {"data": {"values": [{"x": -0.354, "y": 112, "t": "(a)"}]}, "mark": {"type": "text", "font": "Liberation Serif", "fontSize": 16, "color": "#000"},
    "encoding": {
     "x": {"field": "x", "type": "quantitative", "scale": {"domain": [-0.9, -0.3], "nice": false, "zero": false}, "axis": null},
     "y": {"field": "y", "type": "quantitative", "scale": {"domain": [0, 1250], "nice": false, "zero": false}, "axis": null},
     "text": {"field": "t"}}}
  ]},
 {"width": 177, "height": 174, "resolve": {"axis": {"x": "independent", "y": "independent"}},
  "layer": [
   {"data": {"name": "b"}, "mark": {"type": "line", "strokeWidth": 1.3},
    "encoding": {
     "x": {"field": "x", "type": "quantitative", "scale": {"domain": [-0.9, -0.3], "nice": false, "zero": false}, "axis": {"title": "Energy (eV/molecule)", "values": [-0.9,-0.875,-0.85,-0.825,-0.8,-0.775,-0.75,-0.725,-0.7,-0.675,-0.65,-0.625,-0.6,-0.575,-0.55,-0.525,-0.5,-0.475,-0.45,-0.425,-0.4,-0.375,-0.35,-0.325,-0.3], "labelExpr": "abs(datum.value*10-round(datum.value*10))<0.001 ? format(datum.value,'~g') : ''", "tickSize": {"condition": {"test": "abs(datum.value*10-round(datum.value*10))<0.001", "value": -5}, "value": -3}}},
     "y": {"field": "y", "type": "quantitative", "scale": {"domain": [0.5, 1.05], "nice": false, "zero": false}, "axis": {"title": "Cluster size", "values": [0.5,0.55,0.6,0.65,0.7,0.75,0.8,0.85,0.9,0.95,1], "labelExpr": "abs(datum.value*10-round(datum.value*10))<0.001 ? format(datum.value,'~g') : ''", "tickSize": {"condition": {"test": "abs(datum.value*10-round(datum.value*10))<0.001", "value": -5}, "value": -3}}},
     "color": {"field": "s", "type": "nominal", "scale": {"domain": ["r","k","b","g"], "range": ["#ff0000","#000000","#0000ff","#33ee33"]}, "legend": null}}},
   {"data": {"name": "b"}, "mark": {"type": "point", "filled": true, "shape": "square", "size": 6, "opacity": 1},
    "encoding": {
     "x": {"field": "x", "type": "quantitative", "scale": {"domain": [-0.9, -0.3], "nice": false, "zero": false}, "axis": null},
     "y": {"field": "y", "type": "quantitative", "scale": {"domain": [0.5, 1.05], "nice": false, "zero": false}, "axis": null},
     "color": {"field": "s", "type": "nominal", "scale": {"domain": ["r","k","b","g"], "range": ["#ff0000","#000000","#0000ff","#33ee33"]}, "legend": null}}},
   {"data": {"name": "bL"}, "mark": {"type": "text", "fontSize": 10},
    "encoding": {
     "x": {"field": "x", "type": "quantitative", "scale": {"domain": [-0.9, -0.3], "nice": false, "zero": false}, "axis": {"orient": "top", "title": null, "labels": false, "values": [-0.9,-0.875,-0.85,-0.825,-0.8,-0.775,-0.75,-0.725,-0.7,-0.675,-0.65,-0.625,-0.6,-0.575,-0.55,-0.525,-0.5,-0.475,-0.45,-0.425,-0.4,-0.375,-0.35,-0.325,-0.3], "tickSize": {"condition": {"test": "abs(datum.value*10-round(datum.value*10))<0.001", "value": -5}, "value": -3}}},
     "y": {"field": "y", "type": "quantitative", "scale": {"domain": [0.5, 1.05], "nice": false, "zero": false}, "axis": {"orient": "right", "title": null, "labels": false, "values": [0.5,0.55,0.6,0.65,0.7,0.75,0.8,0.85,0.9,0.95,1], "tickSize": {"condition": {"test": "abs(datum.value*10-round(datum.value*10))<0.001", "value": -5}, "value": -3}}},
     "text": {"field": "t"},
     "color": {"field": "s", "type": "nominal", "scale": {"domain": ["r","k","b","g"], "range": ["#ff0000","#000000","#0000ff","#33ee33"]}, "legend": null}}},
   {"data": {"values": [{"x": -0.829, "y": 0.549, "t": "(b)"}]}, "mark": {"type": "text", "font": "Liberation Serif", "fontSize": 16, "color": "#000"},
    "encoding": {
     "x": {"field": "x", "type": "quantitative", "scale": {"domain": [-0.9, -0.3], "nice": false, "zero": false}, "axis": null},
     "y": {"field": "y", "type": "quantitative", "scale": {"domain": [0.5, 1.05], "nice": false, "zero": false}, "axis": null},
     "text": {"field": "t"}}}
  ]},
 {"width": 172, "height": 174, "resolve": {"axis": {"x": "independent", "y": "independent"}},
  "layer": [
   {"data": {"name": "c"}, "mark": {"type": "line", "strokeWidth": 1.3},
    "encoding": {
     "x": {"field": "x", "type": "quantitative", "scale": {"domain": [-1.15, -0.765], "nice": false, "zero": false}, "axis": {"title": "Energy (eV/molecule)", "values": [-1.15,-1.125,-1.1,-1.075,-1.05,-1.025,-1,-0.975,-0.95,-0.925,-0.9,-0.875,-0.85,-0.825,-0.8,-0.775], "labelExpr": "abs(datum.value*10-round(datum.value*10))<0.001 ? format(datum.value,'~g') : ''", "tickSize": {"condition": {"test": "abs(datum.value*10-round(datum.value*10))<0.001", "value": -5}, "value": -3}}},
     "y": {"field": "y", "type": "quantitative", "scale": {"domain": [0, 1250], "nice": false, "zero": false}, "axis": {"title": "Temperature (K)", "values": [0,125,250,375,500,625,750,875,1000,1125,1250], "labelExpr": "abs(datum.value/250-round(datum.value/250))<0.001 ? format(datum.value,'~g') : ''", "tickSize": {"condition": {"test": "abs(datum.value/250-round(datum.value/250))<0.001", "value": -5}, "value": -3}}},
     "color": {"field": "s", "type": "nominal", "scale": {"domain": ["r","k","b","g"], "range": ["#ff0000","#000000","#0000ff","#33ee33"]}, "legend": null}}},
   {"data": {"name": "c"}, "mark": {"type": "point", "filled": true, "shape": "square", "size": 6, "opacity": 1},
    "encoding": {
     "x": {"field": "x", "type": "quantitative", "scale": {"domain": [-1.15, -0.765], "nice": false, "zero": false}, "axis": null},
     "y": {"field": "y", "type": "quantitative", "scale": {"domain": [0, 1250], "nice": false, "zero": false}, "axis": null},
     "color": {"field": "s", "type": "nominal", "scale": {"domain": ["r","k","b","g"], "range": ["#ff0000","#000000","#0000ff","#33ee33"]}, "legend": null}}},
   {"data": {"name": "cL"}, "mark": {"type": "text", "fontSize": 10},
    "encoding": {
     "x": {"field": "x", "type": "quantitative", "scale": {"domain": [-1.15, -0.765], "nice": false, "zero": false}, "axis": {"orient": "top", "title": null, "labels": false, "values": [-1.15,-1.125,-1.1,-1.075,-1.05,-1.025,-1,-0.975,-0.95,-0.925,-0.9,-0.875,-0.85,-0.825,-0.8,-0.775], "tickSize": {"condition": {"test": "abs(datum.value*10-round(datum.value*10))<0.001", "value": -5}, "value": -3}}},
     "y": {"field": "y", "type": "quantitative", "scale": {"domain": [0, 1250], "nice": false, "zero": false}, "axis": {"orient": "right", "title": null, "labels": false, "values": [0,125,250,375,500,625,750,875,1000,1125,1250], "tickSize": {"condition": {"test": "abs(datum.value/250-round(datum.value/250))<0.001", "value": -5}, "value": -3}}},
     "text": {"field": "t"},
     "color": {"field": "s", "type": "nominal", "scale": {"domain": ["r","k","b","g"], "range": ["#ff0000","#000000","#0000ff","#33ee33"]}, "legend": null}}},
   {"data": {"values": [{"x": -0.803, "y": 112, "t": "(c)"}]}, "mark": {"type": "text", "font": "Liberation Serif", "fontSize": 16, "color": "#000"},
    "encoding": {
     "x": {"field": "x", "type": "quantitative", "scale": {"domain": [-1.15, -0.765], "nice": false, "zero": false}, "axis": null},
     "y": {"field": "y", "type": "quantitative", "scale": {"domain": [0, 1250], "nice": false, "zero": false}, "axis": null},
     "text": {"field": "t"}}}
  ]},
 {"width": 177, "height": 174, "resolve": {"axis": {"x": "independent", "y": "independent"}},
  "layer": [
   {"data": {"name": "d"}, "mark": {"type": "line", "strokeWidth": 1.3},
    "encoding": {
     "x": {"field": "x", "type": "quantitative", "scale": {"domain": [-1.15, -0.765], "nice": false, "zero": false}, "axis": {"title": "Energy (eV/molecule)", "values": [-1.15,-1.125,-1.1,-1.075,-1.05,-1.025,-1,-0.975,-0.95,-0.925,-0.9,-0.875,-0.85,-0.825,-0.8,-0.775], "labelExpr": "abs(datum.value*10-round(datum.value*10))<0.001 ? format(datum.value,'~g') : ''", "tickSize": {"condition": {"test": "abs(datum.value*10-round(datum.value*10))<0.001", "value": -5}, "value": -3}}},
     "y": {"field": "y", "type": "quantitative", "scale": {"domain": [0.6, 1.05], "nice": false, "zero": false}, "axis": {"title": "Cluster size", "values": [0.6,0.65,0.7,0.75,0.8,0.85,0.9,0.95,1], "labelExpr": "abs(datum.value*10-round(datum.value*10))<0.001 ? format(datum.value,'~g') : ''", "tickSize": {"condition": {"test": "abs(datum.value*10-round(datum.value*10))<0.001", "value": -5}, "value": -3}}},
     "color": {"field": "s", "type": "nominal", "scale": {"domain": ["r","k","b","g"], "range": ["#ff0000","#000000","#0000ff","#33ee33"]}, "legend": null}}},
   {"data": {"name": "d"}, "mark": {"type": "point", "filled": true, "shape": "square", "size": 6, "opacity": 1},
    "encoding": {
     "x": {"field": "x", "type": "quantitative", "scale": {"domain": [-1.15, -0.765], "nice": false, "zero": false}, "axis": null},
     "y": {"field": "y", "type": "quantitative", "scale": {"domain": [0.6, 1.05], "nice": false, "zero": false}, "axis": null},
     "color": {"field": "s", "type": "nominal", "scale": {"domain": ["r","k","b","g"], "range": ["#ff0000","#000000","#0000ff","#33ee33"]}, "legend": null}}},
   {"data": {"name": "dL"}, "mark": {"type": "text", "fontSize": 10},
    "encoding": {
     "x": {"field": "x", "type": "quantitative", "scale": {"domain": [-1.15, -0.765], "nice": false, "zero": false}, "axis": {"orient": "top", "title": null, "labels": false, "values": [-1.15,-1.125,-1.1,-1.075,-1.05,-1.025,-1,-0.975,-0.95,-0.925,-0.9,-0.875,-0.85,-0.825,-0.8,-0.775], "tickSize": {"condition": {"test": "abs(datum.value*10-round(datum.value*10))<0.001", "value": -5}, "value": -3}}},
     "y": {"field": "y", "type": "quantitative", "scale": {"domain": [0.6, 1.05], "nice": false, "zero": false}, "axis": {"orient": "right", "title": null, "labels": false, "values": [0.6,0.65,0.7,0.75,0.8,0.85,0.9,0.95,1], "tickSize": {"condition": {"test": "abs(datum.value*10-round(datum.value*10))<0.001", "value": -5}, "value": -3}}},
     "text": {"field": "t"},
     "color": {"field": "s", "type": "nominal", "scale": {"domain": ["r","k","b","g"], "range": ["#ff0000","#000000","#0000ff","#33ee33"]}, "legend": null}}},
   {"data": {"values": [{"x": -1.105, "y": 0.65, "t": "(d)"}]}, "mark": {"type": "text", "font": "Liberation Serif", "fontSize": 16, "color": "#000"},
    "encoding": {
     "x": {"field": "x", "type": "quantitative", "scale": {"domain": [-1.15, -0.765], "nice": false, "zero": false}, "axis": null},
     "y": {"field": "y", "type": "quantitative", "scale": {"domain": [0.6, 1.05], "nice": false, "zero": false}, "axis": null},
     "text": {"field": "t"}}}
  ]},
 {"width": 172, "height": 174, "resolve": {"axis": {"x": "independent", "y": "independent"}},
  "layer": [
   {"data": {"name": "e"}, "mark": {"type": "line", "strokeWidth": 1.3},
    "encoding": {
     "x": {"field": "x", "type": "quantitative", "scale": {"domain": [-200, 90], "nice": false, "zero": false}, "axis": {"title": "Energy (ε)", "values": [-200,-175,-150,-125,-100,-75,-50,-25,0,25,50,75], "labelExpr": "abs(datum.value/50-round(datum.value/50))<0.001 ? format(datum.value,'~g') : ''", "tickSize": {"condition": {"test": "abs(datum.value/50-round(datum.value/50))<0.001", "value": -5}, "value": -3}}},
     "y": {"field": "y", "type": "quantitative", "scale": {"domain": [0, 0.4], "nice": false, "zero": false}, "axis": {"title": "Temperature (ε/kB)", "values": [0,0.05,0.1,0.15,0.2,0.25,0.3,0.35,0.4], "labelExpr": "abs(datum.value*10-round(datum.value*10))<0.001 ? format(datum.value,'~g') : ''", "tickSize": {"condition": {"test": "abs(datum.value*10-round(datum.value*10))<0.001", "value": -5}, "value": -3}}},
     "color": {"field": "s", "type": "nominal", "scale": {"domain": ["r","k","b","g"], "range": ["#ff0000","#000000","#0000ff","#33ee33"]}, "legend": null}}},
   {"data": {"name": "e"}, "mark": {"type": "point", "filled": true, "shape": "square", "size": 6, "opacity": 1},
    "encoding": {
     "x": {"field": "x", "type": "quantitative", "scale": {"domain": [-200, 90], "nice": false, "zero": false}, "axis": null},
     "y": {"field": "y", "type": "quantitative", "scale": {"domain": [0, 0.4], "nice": false, "zero": false}, "axis": null},
     "color": {"field": "s", "type": "nominal", "scale": {"domain": ["r","k","b","g"], "range": ["#ff0000","#000000","#0000ff","#33ee33"]}, "legend": null}}},
   {"data": {"name": "eL"}, "mark": {"type": "text", "fontSize": 10},
    "encoding": {
     "x": {"field": "x", "type": "quantitative", "scale": {"domain": [-200, 90], "nice": false, "zero": false}, "axis": {"orient": "top", "title": null, "labels": false, "values": [-200,-175,-150,-125,-100,-75,-50,-25,0,25,50,75], "tickSize": {"condition": {"test": "abs(datum.value/50-round(datum.value/50))<0.001", "value": -5}, "value": -3}}},
     "y": {"field": "y", "type": "quantitative", "scale": {"domain": [0, 0.4], "nice": false, "zero": false}, "axis": {"orient": "right", "title": null, "labels": false, "values": [0,0.05,0.1,0.15,0.2,0.25,0.3,0.35,0.4], "tickSize": {"condition": {"test": "abs(datum.value*10-round(datum.value*10))<0.001", "value": -5}, "value": -3}}},
     "text": {"field": "t"},
     "color": {"field": "s", "type": "nominal", "scale": {"domain": ["r","k","b","g"], "range": ["#ff0000","#000000","#0000ff","#33ee33"]}, "legend": null}}},
   {"data": {"values": [{"x": 61, "y": 0.036, "t": "(e)"}]}, "mark": {"type": "text", "font": "Liberation Serif", "fontSize": 16, "color": "#000"},
    "encoding": {
     "x": {"field": "x", "type": "quantitative", "scale": {"domain": [-200, 90], "nice": false, "zero": false}, "axis": null},
     "y": {"field": "y", "type": "quantitative", "scale": {"domain": [0, 0.4], "nice": false, "zero": false}, "axis": null},
     "text": {"field": "t"}}}
  ]},
 {"width": 177, "height": 174, "resolve": {"axis": {"x": "independent", "y": "independent"}},
  "layer": [
   {"data": {"name": "f"}, "mark": {"type": "line", "strokeWidth": 1.3},
    "encoding": {
     "x": {"field": "x", "type": "quantitative", "scale": {"domain": [-200, 90], "nice": false, "zero": false}, "axis": {"title": "Energy (ε)", "values": [-200,-175,-150,-125,-100,-75,-50,-25,0,25,50,75], "labelExpr": "abs(datum.value/50-round(datum.value/50))<0.001 ? format(datum.value,'~g') : ''", "tickSize": {"condition": {"test": "abs(datum.value/50-round(datum.value/50))<0.001", "value": -5}, "value": -3}}},
     "y": {"field": "y", "type": "quantitative", "scale": {"domain": [0, 1.1], "nice": false, "zero": false}, "axis": {"title": "Cluster size", "values": [0,0.1,0.2,0.3,0.4,0.5,0.6,0.7,0.8,0.9,1], "labelExpr": "abs(datum.value*5-round(datum.value*5))<0.001 ? format(datum.value,'~g') : ''", "tickSize": {"condition": {"test": "abs(datum.value*5-round(datum.value*5))<0.001", "value": -5}, "value": -3}}},
     "color": {"field": "s", "type": "nominal", "scale": {"domain": ["r","k","b","g"], "range": ["#ff0000","#000000","#0000ff","#33ee33"]}, "legend": null}}},
   {"data": {"name": "f"}, "mark": {"type": "point", "filled": true, "size": 9, "opacity": 1},
    "encoding": {
     "x": {"field": "x", "type": "quantitative", "scale": {"domain": [-200, 90], "nice": false, "zero": false}, "axis": null},
     "y": {"field": "y", "type": "quantitative", "scale": {"domain": [0, 1.1], "nice": false, "zero": false}, "axis": null},
     "shape": {"field": "s", "type": "nominal", "scale": {"domain": ["r","k","b","g"], "range": ["square","triangle-up","square","triangle-up"]}, "legend": null},
     "color": {"field": "s", "type": "nominal", "scale": {"domain": ["r","k","b","g"], "range": ["#ff0000","#000000","#0000ff","#33ee33"]}, "legend": null}}},
   {"data": {"name": "fL"}, "mark": {"type": "text", "fontSize": 10},
    "encoding": {
     "x": {"field": "x", "type": "quantitative", "scale": {"domain": [-200, 90], "nice": false, "zero": false}, "axis": {"orient": "top", "title": null, "labels": false, "values": [-200,-175,-150,-125,-100,-75,-50,-25,0,25,50,75], "tickSize": {"condition": {"test": "abs(datum.value/50-round(datum.value/50))<0.001", "value": -5}, "value": -3}}},
     "y": {"field": "y", "type": "quantitative", "scale": {"domain": [0, 1.1], "nice": false, "zero": false}, "axis": {"orient": "right", "title": null, "labels": false, "values": [0,0.1,0.2,0.3,0.4,0.5,0.6,0.7,0.8,0.9,1], "tickSize": {"condition": {"test": "abs(datum.value*5-round(datum.value*5))<0.001", "value": -5}, "value": -3}}},
     "text": {"field": "t"},
     "color": {"field": "s", "type": "nominal", "scale": {"domain": ["r","k","b","g"], "range": ["#ff0000","#000000","#0000ff","#33ee33"]}, "legend": null}}},
   {"data": {"values": [{"x": -167.8, "y": 0.1, "t": "(f)"}]}, "mark": {"type": "text", "font": "Liberation Serif", "fontSize": 16, "color": "#000"},
    "encoding": {
     "x": {"field": "x", "type": "quantitative", "scale": {"domain": [-200, 90], "nice": false, "zero": false}, "axis": null},
     "y": {"field": "y", "type": "quantitative", "scale": {"domain": [0, 1.1], "nice": false, "zero": false}, "axis": null},
     "text": {"field": "t"}}}
  ]}
]
}
